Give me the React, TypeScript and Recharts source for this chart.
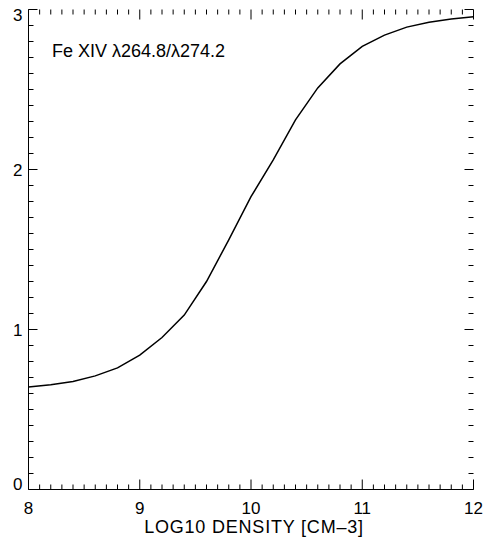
import { LineChart, Line, XAxis, YAxis, ReferenceLine } from 'recharts'

// log10 electron density (cm^-3) vs. Fe XIV 264.8/274.2 ratio
const densities = [8.0, 8.2, 8.4, 8.6, 8.8, 9.0, 9.2, 9.4, 9.6, 9.8, 10.0, 10.2, 10.4, 10.6, 10.8, 11.0, 11.2, 11.4, 11.6, 11.8, 12.0]
const ratios = [0.64, 0.655, 0.675, 0.71, 0.76, 0.84, 0.95, 1.09, 1.3, 1.56, 1.83, 2.06, 2.31, 2.51, 2.66, 2.77, 2.84, 2.89, 2.92, 2.94, 2.955]

const xMajor = [8, 9, 10, 11, 12]
const yMajor = [0, 1, 2, 3]
const title = 'Fe XIV \u03bb264.8/\u03bb274.2'
const xTitle = 'LOG10 DENSITY [CM\u20133]'

const FONT = '"Liberation Sans", Arial, Helvetica, sans-serif'

const W = 485
const H = 542
const M = { top: 9.5, right: 11.5, bottom: 0, left: 0 }
const X_AXIS_H = 52.5
const Y_AXIS_W = 28.5
const X_DOM = [8, 12]
const Y_DOM = [0, 3]

// pixels per data unit, so tick lengths can be given in px
const pxX = (W - M.left - M.right - Y_AXIS_W) / (X_DOM[1] - X_DOM[0])
const pxY = (H - M.top - M.bottom - X_AXIS_H) / (Y_DOM[1] - Y_DOM[0])

const minor = (lo: number, hi: number) => {
  const out: number[] = []
  for (let i = 0; i <= Math.round((hi - lo) * 10); i++) out.push(Math.round((lo + i * 0.1) * 10) / 10)
  return out
}
const xMinor = minor(8, 12)
const yMinor = minor(0, 3)
const isMajor = (v: number, majors: number[]) => majors.some(m => Math.abs(m - v) < 1e-6)

const data = densities.map((x, i) => ({ x, y: ratios[i] }))

function XLabel({ x, y, payload }: any) {
  return (
    <text x={x} y={y + 24} textAnchor="middle" fontSize={17} fontFamily={FONT} fill="#000">
      {payload.value}
    </text>
  )
}

function YLabel({ x, y, payload }: any) {
  // IDL keeps the end labels inside the box
  const shift = payload.value === 3 ? 5 : payload.value === 0 ? -6 : 0
  return (
    <text x={x - 6} y={y + shift + 6} textAnchor="end" fontSize={17} fontFamily={FONT} fill="#000">
      {payload.value}
    </text>
  )
}

const tickStyle = { stroke: '#000', strokeWidth: 1, ifOverflow: 'visible' as const }

export default function App() {
  return (
    <div style={{ position: 'relative', width: W, height: H, background: '#fff' }}>
      <style>{'body{margin:0}'}</style>
      <LineChart width={W} height={H} data={data} margin={M}>
        <XAxis
          type="number"
          dataKey="x"
          domain={X_DOM}
          allowDataOverflow
          ticks={xMajor}
          interval={0}
          height={X_AXIS_H}
          tickSize={0}
          tickMargin={0}
          tickLine={false}
          tick={(p: any) => <XLabel {...p} />}
          axisLine={{ stroke: '#000' }}
          label={{ value: xTitle, position: 'insideBottom', offset: 9, dx: 3, fontSize: 18, fontFamily: FONT, fill: '#000', style: { letterSpacing: 0.8 } }}
        />
        <XAxis xAxisId="top" orientation="top" type="number" dataKey="x" domain={X_DOM} allowDataOverflow height={0} tick={false} tickLine={false} axisLine={{ stroke: '#000' }} />
        <YAxis
          type="number"
          domain={Y_DOM}
          allowDataOverflow
          ticks={yMajor}
          interval={0}
          width={Y_AXIS_W}
          tickSize={0}
          tickMargin={0}
          tickLine={false}
          tick={(p: any) => <YLabel {...p} />}
          axisLine={{ stroke: '#000' }}
        />
        <YAxis yAxisId="right" orientation="right" type="number" domain={Y_DOM} allowDataOverflow width={0} tick={false} tickLine={false} axisLine={{ stroke: '#000' }} />

        {/* inward tick marks on all four sides */}
        {xMinor.map(v => {
          const len = (isMajor(v, xMajor) ? 10 : 5) / pxY
          return [
            <ReferenceLine key={`b${v}`} segment={[{ x: v, y: Y_DOM[0] }, { x: v, y: Y_DOM[0] + len }]} {...tickStyle} />,
            <ReferenceLine key={`t${v}`} segment={[{ x: v, y: Y_DOM[1] }, { x: v, y: Y_DOM[1] - len }]} {...tickStyle} />,
          ]
        })}
        {yMinor.map(v => {
          const len = (isMajor(v, yMajor) ? 9 : 5) / pxX
          return [
            <ReferenceLine key={`l${v}`} segment={[{ x: X_DOM[0], y: v }, { x: X_DOM[0] + len, y: v }]} {...tickStyle} />,
            <ReferenceLine key={`r${v}`} segment={[{ x: X_DOM[1], y: v }, { x: X_DOM[1] - len, y: v }]} {...tickStyle} />,
          ]
        })}

        <Line
          type="linear"
          dataKey="y"
          stroke="#000"
          strokeWidth={1.5}
          dot={false}
          isAnimationActive={false}
        />
      </LineChart>
      <svg width={W} height={H} style={{ position: 'absolute', left: 0, top: 0, pointerEvents: 'none' }}>
        <text x={52} y={57} fontSize={18} fontFamily={FONT} fill="#000">
          {title}
        </text>
      </svg>
    </div>
  )
}
